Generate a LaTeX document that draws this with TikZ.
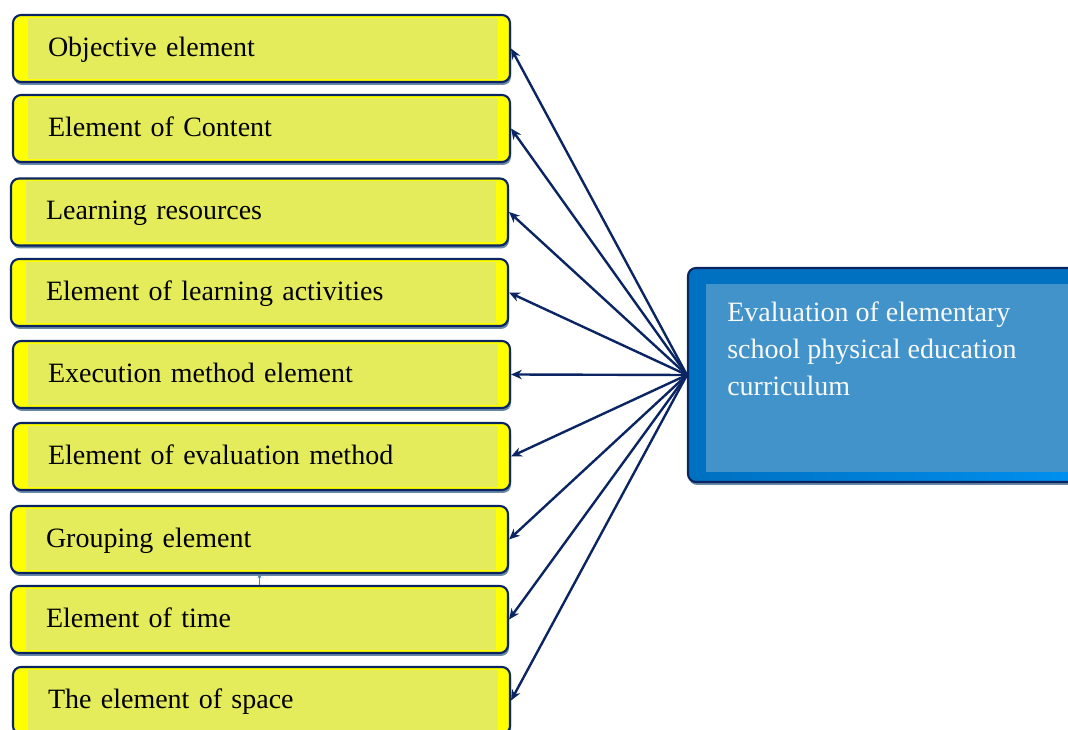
\documentclass[tikz,border=0pt]{standalone}
\usepackage{fontspec}
\setmainfont{Liberation Serif}
\usetikzlibrary{arrows.meta,shadows}
\definecolor{navy}{HTML}{0B2462}
\definecolor{ylw}{HTML}{FFFF00}
\definecolor{ylwin}{HTML}{E5EC5C}
\definecolor{hubout}{HTML}{0070C0}
\definecolor{hubin}{HTML}{4393CB}
\definecolor{hubbright}{HTML}{0090F0}
\definecolor{shd}{HTML}{4F7497}
\definecolor{smallarr}{HTML}{4A80B0}
\begin{document}
\begin{tikzpicture}[x=0.75pt,y=-0.75pt,
  ebox/.style={draw=navy, line width=1.6pt, rounded corners=6pt, fill=ylw,
    minimum width=372.75pt, minimum height=50.25pt, text width=320.25pt,
    inner xsep=26.25pt, inner ysep=0pt, align=left,
    text height=19pt, text depth=7pt,
    font=\fontsize{21}{26}\selectfont,
    drop shadow={shadow xshift=0.75pt, shadow yshift=-2.25pt, fill=shd, opacity=0.85},
    path picture={\fill[ylwin, sharp corners] ([xshift=11.25pt,yshift=-2.25pt]path picture bounding box.north west) rectangle ([xshift=-9pt,yshift=2.25pt]path picture bounding box.south east);}},
  hubbox/.style={draw=navy, line width=1.6pt, rounded corners=6pt, fill=hubout,
    minimum width=294pt, minimum height=160.5pt, inner sep=0pt,
    drop shadow={shadow xshift=0.75pt, shadow yshift=-2.25pt, fill=shd, opacity=0.85},
    path picture={
      \shade[sharp corners, left color=hubout, right color=hubbright] ([xshift=13.5pt,yshift=0.5pt]path picture bounding box.south west) rectangle ([yshift=7.5pt]path picture bounding box.south east);
      \fill[hubin, sharp corners] ([xshift=13.5pt,yshift=-12pt]path picture bounding box.north west) rectangle ([yshift=7.5pt]path picture bounding box.south east);}},
  hubtxt/.style={text=white!95!gray, align=left, inner sep=0pt,
    font=\fontsize{21}{27.75}\selectfont},
  conn/.style={draw=navy, line width=1.8pt, -{Stealth[length=8pt,width=7pt,inset=2.5pt]}},
  tinyarr/.style={draw=smallarr, line width=0.6pt, -{Stealth[length=3pt,width=3pt]}}
]
\useasboundingbox (0,0) rectangle (1068,730);
\clip (0,0) rectangle (1068,730);
\node[ebox] (b1) at (261.5,48.5) {Objective element};
\node[ebox] (b2) at (261.5,128.5) {Element of Content};
\node[ebox] (b3) at (259.5,212) {Learning resources};
\node[ebox] (b4) at (259.5,292.5) {Element of learning activities};
\node[ebox] (b5) at (261.5,374.5) {Execution method element};
\node[ebox] (b6) at (261.5,456.5) {Element of evaluation method};
\node[ebox] (b7) at (259.5,539.5) {Grouping element};
\node[ebox] (b8) at (259.5,619.5) {Element of time};
\node[ebox] (b9) at (261.5,700.5) {The element of space};
\node[hubbox] (hub) at (884,375) {};
\node[hubtxt, anchor=north west] (ht) at (727,302) {Evaluation of elementary\\school physical education\\curriculum};
\foreach \b in {b1,b2,b3,b4,b5,b6,b7,b8,b9}
  \draw[conn] (hub.west) -- (\b.east);
\draw[tinyarr] (b8.north) -- (b7.south);
\end{tikzpicture}
\end{document}
